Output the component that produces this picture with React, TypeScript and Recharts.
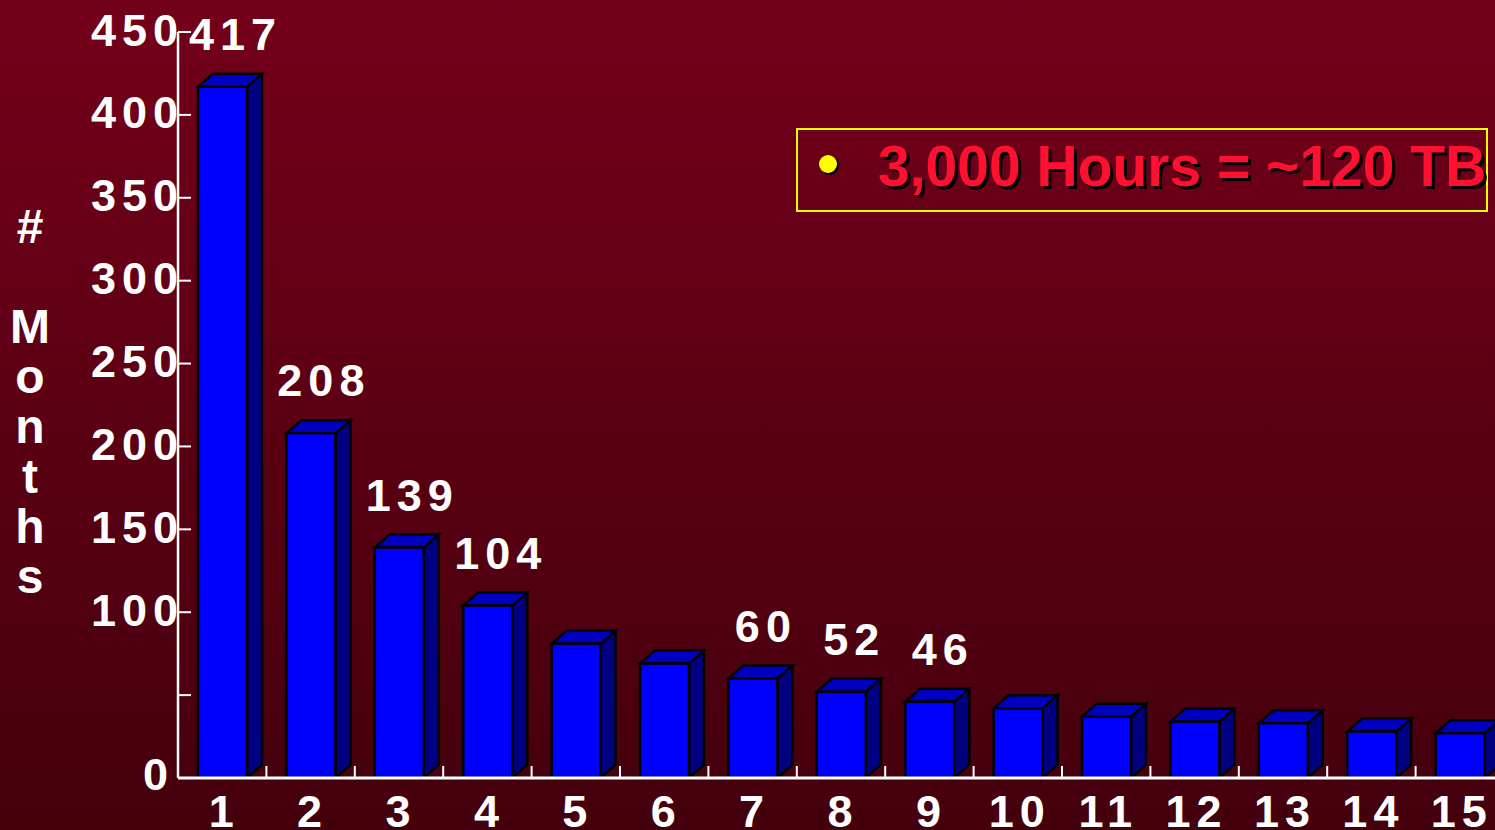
import { BarChart, Bar, XAxis, YAxis, Legend, LabelList } from "recharts";

// data
const categories = ["1", "2", "3", "4", "5", "6", "7", "8", "9", "10", "11", "12", "13", "14", "15"];
const months = [417, 208, 139, 104, 81, 69, 60, 52, 46, 42, 37, 34, 33, 28, 27];
const shownLabels = [417, 208, 139, 104, null, null, 60, 52, 46, null, null, null, null, null, null];
const yTicks = [0, 50, 100, 150, 200, 250, 300, 350, 400, 450];
const yTitle = ["#", "", "M", "o", "n", "t", "h", "s"];
const noteText = "3,000 Hours = ~120 TB";

const chartData = categories.map((c, i) => ({
    cat: c,
    months: months[i],
    label: shownLabels[i],
}));

const CHART_W = 1520;
const CHART_H = 830;
const Y_W = 178;
const RIGHT = 16;
const BAND = (CHART_W - Y_W - RIGHT) / categories.length;
const DX = 15;
const DY = 13;
const FONT = "'Liberation Sans', Arial, sans-serif";
const NUM_SIZE = 45;
const NUM_SPACING = 6;

function Box3D(props: any) {
    const { x, y, width, height } = props;
    if (!height || height <= 0) return null;
    const r = x + width;
    const b = y + height;
    return (
        <g stroke="#000" strokeWidth={2.5} strokeLinejoin="miter">
            <polygon
                points={`${r},${y} ${r + DX},${y - DY} ${r + DX},${b - DY} ${r},${b}`}
                fill="#000080"
            />
            <polygon
                points={`${x},${y} ${x + DX},${y - DY} ${r + DX},${y - DY} ${r},${y}`}
                fill="#0000c0"
            />
            <rect x={x} y={y} width={width} height={height} fill="#0000ff" />
        </g>
    );
}

function YTick(props: any) {
    const { x, y, payload } = props;
    const v = payload.value;
    return (
        <g>
            <line x1={x} x2={x + 13} y1={y} y2={y} stroke="#fff" strokeWidth={2} />
            {v !== 50 && (
                <text
                    x={v === 0 ? x - 4 : x + 6}
                    y={v === 0 ? y - 4 : y - 2}
                    textAnchor="end"
                    dominantBaseline="central"
                    fill="#fff"
                    fontSize={NUM_SIZE}
                    fontWeight="bold"
                    fontFamily={FONT}
                    letterSpacing={NUM_SPACING}
                >
                    {v}
                </text>
            )}
        </g>
    );
}

function XTick(props: any) {
    const { x, y, payload } = props;
    const bx = x + BAND / 2;
    return (
        <g>
            <line x1={bx} x2={bx} y1={y} y2={y - 12} stroke="#fff" strokeWidth={2} />
            <text
                x={x + 2}
                y={y + 49}
                textAnchor="middle"
                fill="#fff"
                fontSize={NUM_SIZE}
                fontWeight="bold"
                fontFamily={FONT}
                letterSpacing={NUM_SPACING}
            >
                {payload.value}
            </text>
        </g>
    );
}

function ValueLabel(props: any) {
    const { x, y, width, value } = props;
    if (value === null || value === undefined) return null;
    return (
        <text
            x={x + width / 2 + 13}
            y={y - 37}
            textAnchor="middle"
            fill="#fff"
            fontSize={NUM_SIZE}
            fontWeight="bold"
            fontFamily={FONT}
            letterSpacing={NUM_SPACING}
        >
            {value}
        </text>
    );
}

function YTitle() {
    return (
        <text
            x={30}
            textAnchor="middle"
            fill="#fff"
            fontSize={48}
            fontWeight="bold"
            fontFamily={FONT}
        >
            {yTitle.map((ch, i) =>
                ch ? (
                    <tspan key={i} x={30} y={243 + i * 50}>
                        {ch}
                    </tspan>
                ) : null
            )}
        </text>
    );
}

function NoteBox() {
    return (
        <div
            style={{
                position: "relative",
                width: 692,
                height: 84,
                boxSizing: "border-box",
                border: "2px solid #ffff00",
            }}
        >
            <div
                style={{
                    position: "absolute",
                    left: 21,
                    top: 25,
                    width: 18,
                    height: 18,
                    borderRadius: "50%",
                    background: "#ffff00",
                    boxShadow: "2px 2px 0 #000",
                }}
            />
            <div
                style={{
                    position: "absolute",
                    left: 80,
                    top: 3,
                    fontFamily: FONT,
                    fontWeight: "bold",
                    fontSize: 57,
                    lineHeight: "66px",
                    color: "#ff1030",
                    whiteSpace: "nowrap",
                    textShadow: "3px 3px 0 #000",
                }}
            >
                {noteText}
            </div>
        </div>
    );
}

export default function App() {
    return (
        <div
            style={{
                position: "absolute",
                left: 0,
                top: 0,
                width: 1495,
                height: 830,
                overflow: "hidden",
                background: "linear-gradient(to bottom, #74001a 0%, #5c0014 50%, #44000d 100%)",
            }}
        >
            <BarChart
                width={CHART_W}
                height={CHART_H}
                data={chartData}
                margin={{ top: 32, right: RIGHT, bottom: 0, left: 0 }}
            >
                <XAxis
                    dataKey="cat"
                    height={52}
                    tickSize={0}
                    tickMargin={0}
                    tickLine={false}
                    axisLine={{ stroke: "#fff", strokeWidth: 3 }}
                    tick={<XTick />}
                    interval={0}
                />
                <YAxis
                    width={Y_W}
                    domain={[0, 450]}
                    ticks={yTicks}
                    interval={0}
                    tickSize={0}
                    tickMargin={0}
                    tickLine={false}
                    axisLine={{ stroke: "#fff", strokeWidth: 2.5 }}
                    tick={<YTick />}
                    label={{ content: () => <YTitle /> }}
                />
                <Legend
                    layout="horizontal"
                    verticalAlign="middle"
                    align="center"
                    wrapperStyle={{ left: 796, top: 128, width: 692, height: 84 }}
                    content={() => <NoteBox />}
                />
                <Bar
                    dataKey="months"
                    barSize={49}
                    shape={<Box3D />}
                    isAnimationActive={false}
                >
                    <LabelList dataKey="label" content={<ValueLabel />} />
                </Bar>
            </BarChart>
        </div>
    );
}
